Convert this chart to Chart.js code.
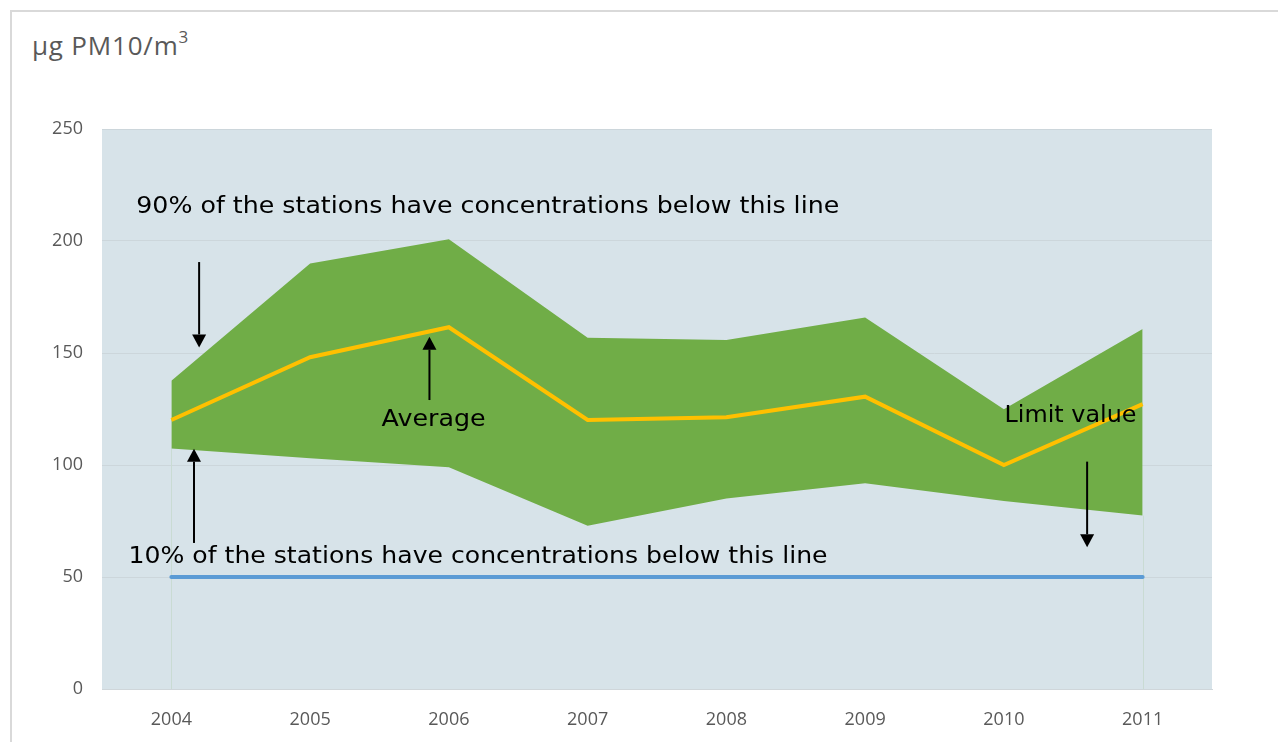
<!DOCTYPE html>
<html>
<head>
<meta charset="utf-8">
<script src="https://cdn.jsdelivr.net/npm/chart.js@4.4.1/dist/chart.umd.min.js"></script>
<style>
  html, body { margin: 0; padding: 0; background: #fff; overflow: hidden; }
  #frame { position: absolute; left: 10px; top: 10px; width: 1300px; height: 800px;
           border: 2px solid #d9d9d9; box-sizing: border-box; }
  #unit { position: absolute; left: 32px; top: 27px; font-family: "Open Sans", sans-serif;
          font-size: 26px; color: #595959; letter-spacing: 0.8px; }
  #unit sup { font-size: 17px; position: relative; top: -2px; }
  #wrap { position: absolute; left: 0; top: 0; width: 1278px; height: 742px; }
</style>
</head>
<body>
<div id="frame"></div>
<div id="unit">µg PM10/m<sup>3</sup></div>
<div id="wrap"><canvas id="pm10Chart"></canvas></div>
<script>
// --- dati ---
const years = ['2004', '2005', '2006', '2007', '2008', '2009', '2010', '2011'];
const p90 = [137.6, 190.0, 200.8, 156.8, 155.8, 165.9, 124.9, 160.7];   // 90° percentile
const p10 = [107.4, 103.0, 99.0, 72.9, 85.1, 91.8, 83.9, 77.4];         // 10° percentile
const average = [120.1, 148.1, 161.5, 120.1, 121.3, 130.5, 100.0, 127.2];
const limitValue = [50, 50, 50, 50, 50, 50, 50, 50];
const yTicks = [0, 50, 100, 150, 200, 250];

// --- etichette e frecce (posizioni in unità degli assi: indice categoria, valore) ---
const notes = [
  { text: '90% of the stations have concentrations below this line', x: 2.28, y: 215.2, w: 703 },
  { text: 'Average', x: 1.89, y: 120, w: 104 },
  { text: 'Limit value', x: 6.48, y: 121.9, w: 132 },
  { text: '10% of the stations have concentrations below this line', x: 2.21, y: 58.9, w: 699 }
];
const arrows = [
  { x: 0.2, from: 190.6, to: 152.5 },
  { x: 1.86, from: 129.0, to: 157.3 },
  { x: 0.163, from: 65.2, to: 107.3 },
  { x: 6.6, from: 101.5, to: 63.3 }
];

const PLOT_BG = '#d7e3e9';
const GRID = '#ccd6db';

// sfondo dell'area del grafico
const plotBg = {
  id: 'plotBg',
  beforeDraw(chart) {
    const { ctx, chartArea: a } = chart;
    ctx.save();
    ctx.fillStyle = PLOT_BG;
    ctx.fillRect(a.left, a.top, a.right - a.left, a.bottom - a.top);
    ctx.restore();
  },
  // bordi verticali tenui sotto la fascia, al primo e all'ultimo anno
  beforeDatasetsDraw(chart) {
    const { ctx, scales: { x, y } } = chart;
    ctx.save();
    ctx.strokeStyle = '#c9dbd3';
    ctx.lineWidth = 1;
    for (const i of [0, years.length - 1]) {
      const px = Math.round(x.getPixelForValue(i)) + 0.5;
      ctx.beginPath();
      ctx.moveTo(px, y.getPixelForValue(0));
      ctx.lineTo(px, y.getPixelForValue(p10[i]));
      ctx.stroke();
    }
    ctx.restore();
  }
};

// testi e frecce sopra i dati
const annotations = {
  id: 'annotations',
  afterDatasetsDraw(chart) {
    const { ctx, scales: { x, y } } = chart;
    ctx.save();
    ctx.fillStyle = '#000';
    ctx.strokeStyle = '#000';
    ctx.lineWidth = 2;
    for (const a of arrows) {
      const px = x.getPixelForValue(a.x);
      const y0 = y.getPixelForValue(a.from);
      const y1 = y.getPixelForValue(a.to);
      const dir = y1 > y0 ? 1 : -1;
      const head = 13;
      ctx.beginPath();
      ctx.moveTo(px, y0);
      ctx.lineTo(px, y1 - dir * head);
      ctx.stroke();
      ctx.beginPath();
      ctx.moveTo(px, y1);
      ctx.lineTo(px - 7, y1 - dir * head);
      ctx.lineTo(px + 7, y1 - dir * head);
      ctx.closePath();
      ctx.fill();
    }
    ctx.font = '23px "DejaVu Sans", Verdana, sans-serif';
    ctx.textAlign = 'center';
    ctx.textBaseline = 'middle';
    for (const n of notes) {
      const k = n.w / ctx.measureText(n.text).width;   // adatta la larghezza
      ctx.save();
      ctx.translate(x.getPixelForValue(n.x), y.getPixelForValue(n.y));
      ctx.scale(k, 1);
      ctx.fillText(n.text, 0, 0);
      ctx.restore();
    }
    ctx.restore();
  }
};

const tickFont = { family: '"Open Sans", sans-serif', size: 18 };

new Chart(document.getElementById('pm10Chart'), {
  type: 'line',
  data: {
    labels: years,
    datasets: [
      { label: 'Average', data: average, borderColor: '#ffc000', borderWidth: 4,
        pointRadius: 0, fill: false, order: 0, borderJoinStyle: 'miter' },
      { label: 'Limit value', data: limitValue, borderColor: '#5b9bd5', borderWidth: 4,
        pointRadius: 0, fill: false, order: 1, borderCapStyle: 'round' },
      { label: '90%', data: p90, borderColor: 'rgba(0,0,0,0)', borderWidth: 0,
        backgroundColor: '#70ad47', pointRadius: 0, fill: '+1', order: 2 },
      { label: '10%', data: p10, borderColor: 'rgba(0,0,0,0)', borderWidth: 0,
        pointRadius: 0, fill: false, order: 3 }
    ]
  },
  options: {
    responsive: true,
    maintainAspectRatio: false,
    animation: false,
    layout: { padding: { top: 129, right: 66, left: 0, bottom: 0 } },
    plugins: { legend: { display: false }, tooltip: { enabled: false } },
    scales: {
      x: {
        offset: true,
        afterFit: (s) => { s.height = 53; },
        grid: { display: false },
        border: { display: true, color: '#cfd6da', width: 1 },
        ticks: { color: '#595959', font: tickFont, padding: 12 }
      },
      y: {
        min: 0,
        max: 250,
        afterFit: (s) => { s.width = 102; },
        afterBuildTicks: (s) => { s.ticks = yTicks.map(v => ({ value: v })); },
        grid: { drawTicks: false, color: GRID },
        border: { display: false },
        ticks: { color: '#595959', font: tickFont, padding: 19 }
      }
    }
  },
  plugins: [plotBg, annotations]
});
</script>
</body>
</html>
